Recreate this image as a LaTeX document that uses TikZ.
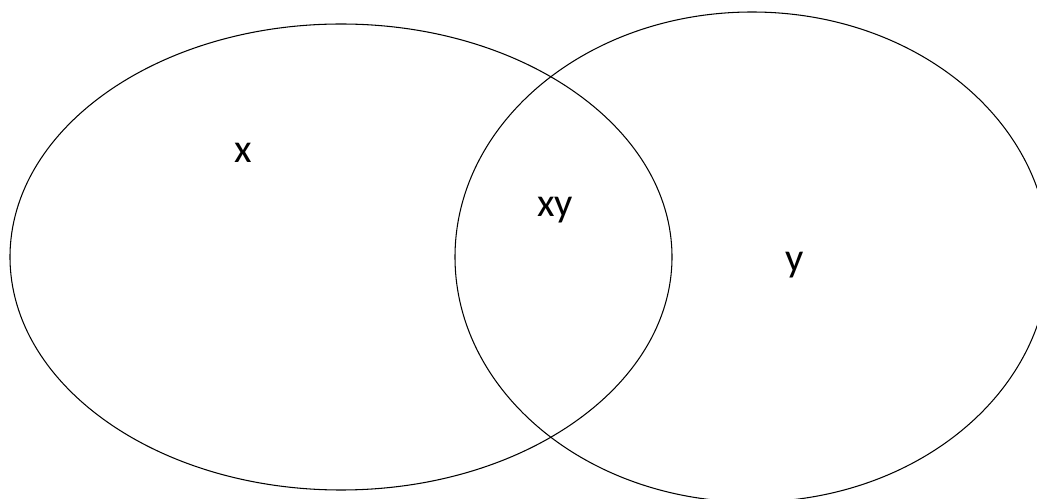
\documentclass[tikz,border=0pt]{standalone}
\usepackage{fontspec}
\setmainfont{Carlito}
\begin{document}
\begin{tikzpicture}[x=0.02cm, y=-0.02cm, line width=0.6pt]
            % ==== DEFINITIONS ====
            \def\rxLeft{331} % Horizontal radius, left set
            \def\ryLeft{233} % Vertical radius, left set
            \def\rxRight{297} % Horizontal radius, right set
            \def\ryRight{245} % Vertical radius, right set
            \tikzset{setlabel/.style={font=\fontsize{23}{28}\selectfont, inner sep=0pt}}

            % ==== FRAME ====
            \useasboundingbox (0,0) rectangle (1037,499);
            \clip (0,0) rectangle (1037,499);

            % ==== SET X ====
            \draw (341,257) ellipse [x radius=\rxLeft, y radius=\ryLeft];

            % ==== SET Y ====
            \draw (752,257) ellipse [x radius=\rxRight, y radius=\ryRight];

            % ==== LABELS ====
            \node[setlabel] (labelX) at (243,153) {x};
            \node[setlabel] (labelXY) at (555,210) {xy};
            \node[setlabel] (labelY) at (795,265) {y};

        \end{tikzpicture}
\end{document}
